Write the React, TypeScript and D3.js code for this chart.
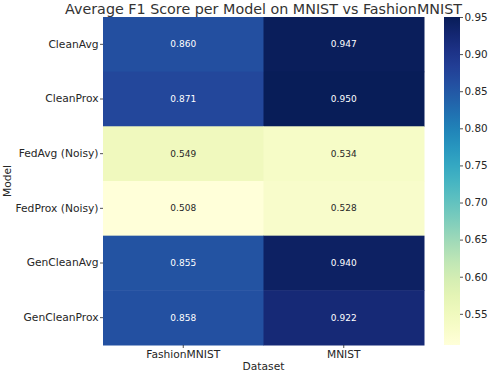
import React, {useEffect, useRef} from "react";
import * as d3 from "d3";

const models = ["CleanAvg", "CleanProx", "FedAvg (Noisy)", "FedProx (Noisy)", "GenCleanAvg", "GenCleanProx"];
const datasets = ["FashionMNIST", "MNIST"];
const fashionScores = [0.860, 0.871, 0.549, 0.508, 0.855, 0.858];
const mnistScores = [0.947, 0.950, 0.534, 0.528, 0.940, 0.922];
const cbTicks = [0.55, 0.60, 0.65, 0.70, 0.75, 0.80, 0.85, 0.90, 0.95];

const W = 488, H = 372;
const FONT = "DejaVu Sans, sans-serif";

export default function App(){
    const ref = useRef<SVGSVGElement>(null);

    useEffect(() => {
        const svg = d3.select(ref.current);
        svg.selectAll("*").remove();

        const cells = models.flatMap((m, i) => [
            {model: m, dataset: datasets[0], value: fashionScores[i]},
            {model: m, dataset: datasets[1], value: mnistScores[i]}
        ]);
        const all = cells.map(d => d.value);
        const vmin = d3.min(all) as number, vmax = d3.max(all) as number;

        const x = d3.scaleBand().domain(datasets).range([103, 424]);
        const y = d3.scaleBand().domain(models).range([17, 345]);
        const color = d3.scaleSequential(d3.interpolateYlGnBu).domain([vmin, vmax]);

        // title
        svg.append("text")
            .attr("x", 263.5).attr("y", 13.5)
            .attr("text-anchor", "middle")
            .style("font-family", FONT).style("font-size", "14.3px").style("fill", "#333")
            .text("Average F1 Score per Model on MNIST vs FashionMNIST");

        // cells
        const g = svg.append("g");
        g.selectAll("rect").data(cells).enter().append("rect")
            .attr("x", d => x(d.dataset)!)
            .attr("y", d => y(d.model)!)
            .attr("width", x.bandwidth() + 0.5)
            .attr("height", y.bandwidth() + 0.5)
            .attr("fill", d => color(d.value));

        g.selectAll("text").data(cells).enter().append("text")
            .attr("x", d => x(d.dataset)! + x.bandwidth() / 2)
            .attr("y", d => y(d.model)! + y.bandwidth() / 2)
            .attr("text-anchor", "middle")
            .attr("dominant-baseline", "central")
            .style("font-family", FONT).style("font-size", "9px")
            .style("fill", d => (d.value - vmin) / (vmax - vmin) > 0.45 ? "#fff" : "#262626")
            .text(d => d.value.toFixed(3));

        // axes
        const yAxis = svg.append("g").attr("transform", "translate(103,0)")
            .call(d3.axisLeft(y).tickSize(3).tickPadding(1.5));
        const xAxis = svg.append("g").attr("transform", "translate(0,345)")
            .call(d3.axisBottom(x).tickSize(3).tickPadding(2));
        [yAxis, xAxis].forEach(a => {
            a.select(".domain").remove();
            a.selectAll("text").style("font-family", FONT).style("font-size", "10.7px").style("fill", "#262626");
            a.selectAll("line").style("stroke", "#262626").style("stroke-width", 0.8);
        });

        svg.append("text")
            .attr("transform", "translate(11,181) rotate(-90)")
            .attr("text-anchor", "middle")
            .style("font-family", FONT).style("font-size", "10.7px").style("fill", "#262626")
            .text("Model");
        svg.append("text")
            .attr("x", 263.5).attr("y", 370)
            .attr("text-anchor", "middle")
            .style("font-family", FONT).style("font-size", "10.7px").style("fill", "#262626")
            .text("Dataset");

        // colorbar
        const cb = d3.scaleLinear().domain([vmin, vmax]).range([345, 17]);
        const gradId = "cbgrad";
        const grad = svg.append("defs").append("linearGradient")
            .attr("id", gradId).attr("x1", 0).attr("y1", 1).attr("x2", 0).attr("y2", 0);
        d3.range(0, 1.001, 0.05).forEach(t => {
            grad.append("stop").attr("offset", t).attr("stop-color", color(vmin + t * (vmax - vmin)));
        });
        svg.append("rect")
            .attr("x", 444).attr("y", 17).attr("width", 16).attr("height", 328)
            .attr("fill", `url(#${gradId})`);
        const cAxis = svg.append("g").attr("transform", "translate(460,0)")
            .call(d3.axisRight(cb).tickValues(cbTicks).tickFormat(d3.format(".2f")).tickSize(3).tickPadding(1.5));
        cAxis.select(".domain").remove();
        cAxis.selectAll("text").style("font-family", FONT).style("font-size", "10.4px").style("fill", "#262626");
        cAxis.selectAll("line").style("stroke", "#262626").style("stroke-width", 0.8);
    }, []);

    return <svg ref={ref} width={W} height={H} style={{position: "absolute", left: 0, top: 0, background: "#fff"}}></svg>;
}
